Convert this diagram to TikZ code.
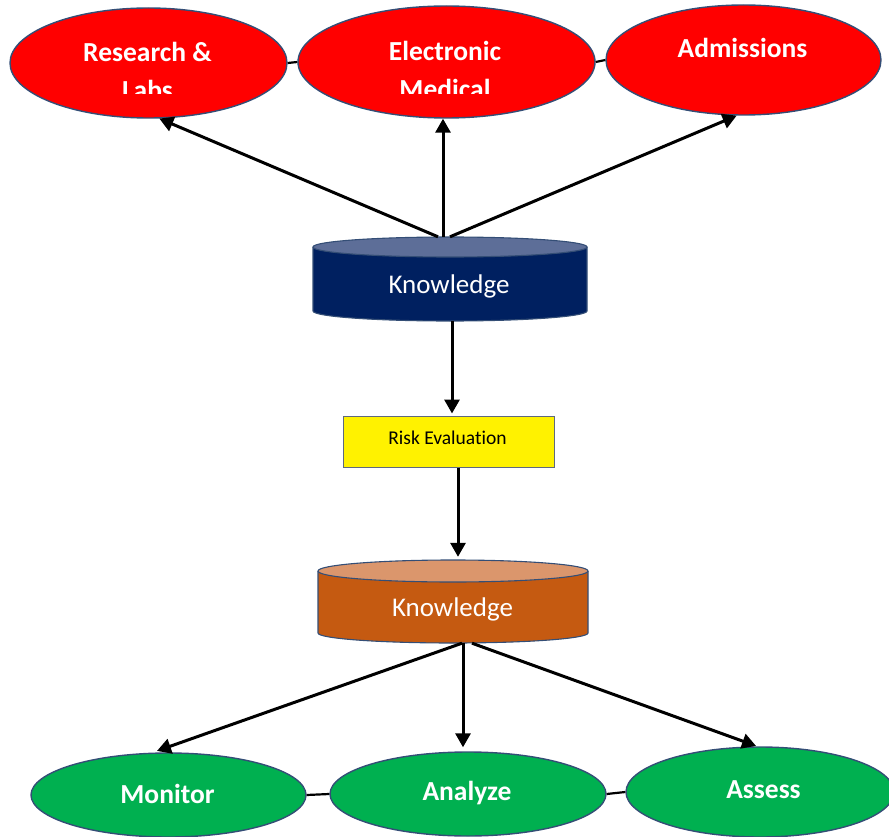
\documentclass[tikz,border=0pt]{standalone}
\usepackage{fontspec}
\setmainfont[Ligatures={NoCommon}]{Carlito}
\usetikzlibrary{shapes.geometric,arrows.meta}

\definecolor{redfill}{RGB}{255,0,0}
\definecolor{greenfill}{RGB}{0,176,80}
\definecolor{edgeblue}{RGB}{52,78,118}
\definecolor{navybody}{RGB}{0,32,96}
\definecolor{navytop}{RGB}{93,110,152}
\definecolor{rustbody}{RGB}{197,90,17}
\definecolor{rusttop}{RGB}{219,150,108}
\definecolor{boxline}{RGB}{95,105,125}

\begin{document}
\begin{tikzpicture}[x=1pt,y=-1pt,
  oval/.style={ellipse, draw=edgeblue, line width=1.4pt, inner sep=0pt},
  redoval/.style={oval, fill=redfill},
  greenoval/.style={oval, fill=greenfill},
  ovaltext/.style={text=white, font=\fontsize{27.5}{32}\selectfont\bfseries, anchor=base, inner sep=0pt},
  cyltext/.style={text=white, font=\fontsize{27}{32}\selectfont, anchor=base, inner sep=0pt},
  cylbox/.style={draw=none, inner sep=0pt},
  cylline/.style={draw=edgeblue, line width=1.1pt},
  arr/.style={-{Triangle[length=14pt,width=15pt]}, line width=3pt},
  link/.style={line width=2.2pt}
]
\useasboundingbox (0,0) rectangle (889,837);

% ---- source systems (top row) ----
\node[redoval, minimum width=277pt, minimum height=110pt] (res) at (148.5,63) {};
\node[redoval, minimum width=297pt, minimum height=112pt] (emr) at (446.5,62) {};
\node[redoval, minimum width=275pt, minimum height=110pt] (adm) at (743.5,60) {};
\draw[link] (res.east) -- (emr.west);
\draw[link] (emr.east) -- (adm.west);

\begin{scope}
  \clip (0,0) rectangle (889,94);
  \node[ovaltext] (res1) at (147.5,62) {Research \&};
  \node[ovaltext] (res2) at (147.5,100) {Labs};
  \node[ovaltext] (emr1) at (445,61) {Electronic};
  \node[ovaltext] (emr2) at (445,99) {Medical};
  \node[ovaltext] (adm1) at (742.5,58) {Admissions};
\end{scope}

% ---- upper knowledge store ----
\fill[navybody] (313,247) -- (313,311) arc[start angle=180, end angle=0, x radius=137, y radius=10] -- (587,247) -- cycle;
\draw[cylline] (313,247) -- (313,311) arc[start angle=180, end angle=0, x radius=137, y radius=10] -- (587,247);
\filldraw[fill=navytop, cylline] (450,247) ellipse [x radius=137, y radius=10];
\node[cylbox, minimum width=274pt, minimum height=84pt] (kn1) at (450,279) {};
\node[cyltext] (kn1t) at (449,294) {Knowledge};

% ---- risk evaluation ----
\node[draw=boxline, line width=1pt, fill=yellow, minimum width=211pt, minimum height=51pt, inner sep=0pt] (risk) at (448.5,441.5) {};
\node[font=\fontsize{19.5}{23}\selectfont, anchor=base, inner sep=0pt] (riskt) at (447.5,444) {Risk Evaluation};

% ---- lower knowledge store ----
\fill[rustbody] (318,571) -- (318,633) arc[start angle=180, end angle=0, x radius=135, y radius=10] -- (588,571) -- cycle;
\draw[cylline] (318,571) -- (318,633) arc[start angle=180, end angle=0, x radius=135, y radius=10] -- (588,571);
\filldraw[fill=rusttop, cylline] (453,571) ellipse [x radius=135, y radius=11];
\node[cylbox, minimum width=270pt, minimum height=83pt] (kn2) at (453,601.5) {};
\node[cyltext] (kn2t) at (452.5,616) {Knowledge};

% ---- actions (bottom row) ----
\node[greenoval, minimum width=275pt, minimum height=84pt] (mon) at (168.5,795) {};
\node[greenoval, minimum width=276pt, minimum height=84pt] (ana) at (468,794) {};
\node[greenoval, minimum width=268pt, minimum height=90pt] (ass) at (760,792) {};
\draw[link] (mon.east) -- (ana.west);
\draw[link] (ana.east) -- (ass.west);
\node[ovaltext] (mont) at (167.5,803) {Monitor};
\node[ovaltext] (anat) at (467,800) {Analyze};
\node[ovaltext] (asst) at (763.5,798) {Assess};

% ---- flow arrows ----
\draw[arr] ([xshift=-12pt]kn1.north) -- (res.-79);
\draw[arr] ([xshift=-7pt]kn1.north) -- ([xshift=-3.5pt]emr.south);
\draw[arr] (kn1.north) -- (adm.-97);
\draw[arr, shorten >=2pt] ([xshift=2pt]kn1.south) -- ([xshift=3.5pt]risk.north);
\draw[arr, shorten >=3pt] ([xshift=9.5pt]risk.south) -- ([xshift=5pt]kn2.north);
\draw[arr, shorten >=5pt] ([xshift=9pt]kn2.south) -- (mon.111);
\draw[arr, shorten >=4pt] ([xshift=10pt]kn2.south) -- ([xshift=-5pt]ana.north);
\draw[arr, shorten >=1pt] ([xshift=19pt]kn2.south) -- ([xshift=-3pt]ass.north);
\end{tikzpicture}
\end{document}
